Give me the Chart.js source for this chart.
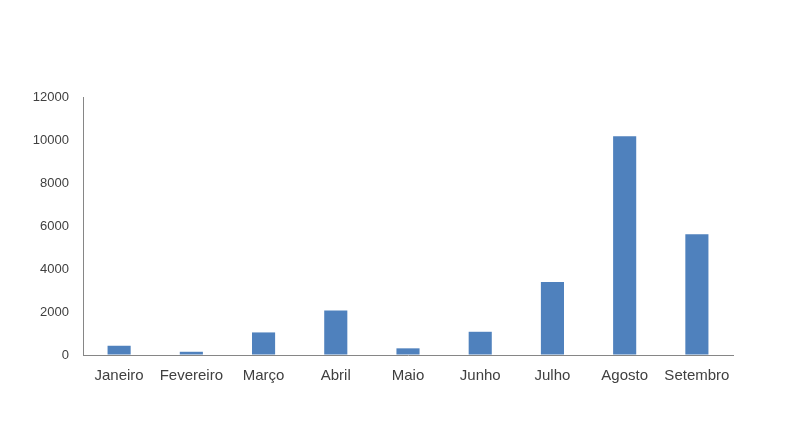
<!DOCTYPE html>
<html>
<head>
<meta charset="utf-8">
<script src="https://cdn.jsdelivr.net/npm/chart.js@4"></script>
<style>
html,body{margin:0;padding:0;background:#fff;}
#wrap{width:807px;height:445px;position:relative;}
</style>
</head>
<body>
<div id="wrap"><canvas id="c" width="807" height="445"></canvas></div>
<script>
const categories = ["Janeiro","Fevereiro","Março","Abril","Maio","Junho","Julho","Agosto","Setembro"];
const values = [430, 150, 1050, 2070, 310, 1080, 3390, 10180, 5620];
const yMin = 0, yMax = 12000, yStep = 2000;

new Chart(document.getElementById('c'), {
  type: 'bar',
  data: {
    labels: categories,
    datasets: [{
      data: values,
      backgroundColor: '#4F81BD',
      borderWidth: 0,
      barPercentage: 0.32,
      categoryPercentage: 1.0
    }]
  },
  options: {
    responsive: false,
    animation: false,
    devicePixelRatio: 1,
    layout: { padding: { top: 97, right: 74, left: 0, bottom: 0 } },
    plugins: { legend: { display: false }, tooltip: { enabled: false } },
    scales: {
      x: {
        grid: { display: true, color: 'rgba(0,0,0,0)', drawTicks: false },
        border: { display: true, color: '#868686', width: 1 },
        ticks: { color: '#404040', font: { family: 'Liberation Sans, Arial', size: 15 }, padding: 12, maxRotation: 0, autoSkip: false },
        afterFit: s => { s.height = 90; }
      },
      y: {
        min: yMin, max: yMax,
        grid: { display: true, color: 'rgba(0,0,0,0)', drawTicks: false },
        border: { display: true, color: '#868686', width: 1 },
        ticks: { stepSize: yStep, color: '#404040', font: { family: 'Liberation Sans, Arial', size: 13 }, padding: 14,
                 callback: v => String(v) },
        afterFit: s => { s.width = 83; }
      }
    }
  }
});
</script>
</body>
</html>
